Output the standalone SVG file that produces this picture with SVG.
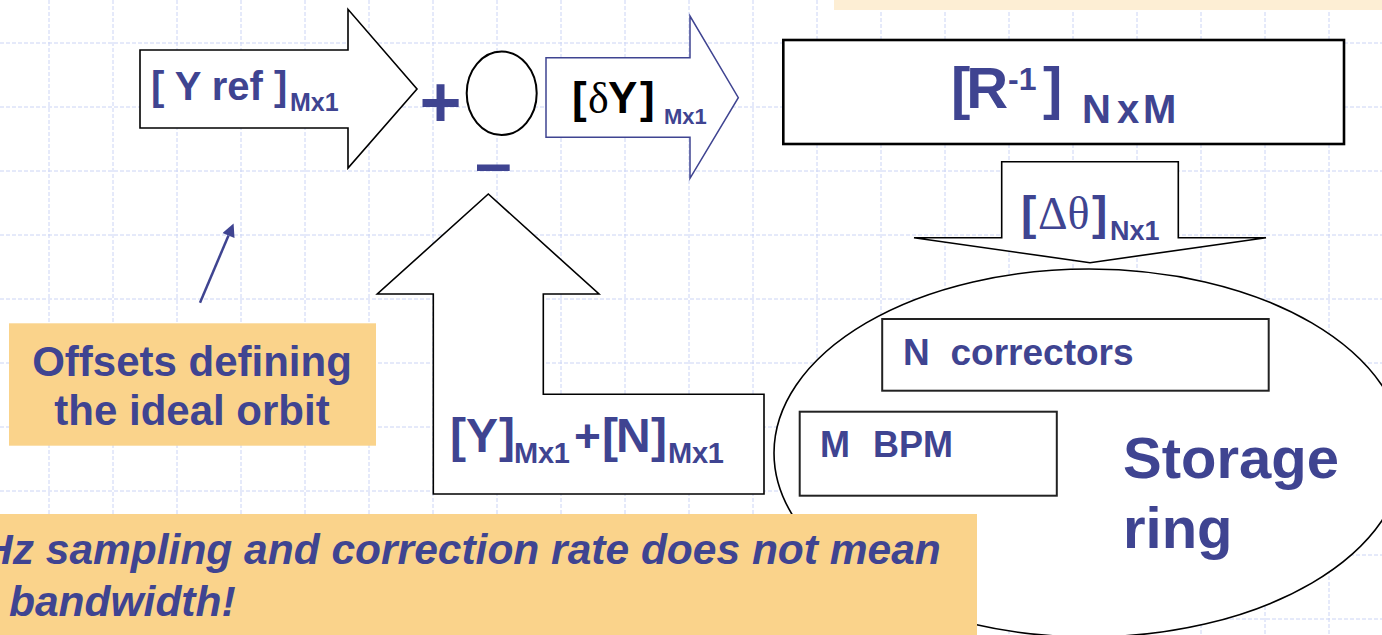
<svg xmlns="http://www.w3.org/2000/svg" width="1382" height="635" viewBox="0 0 1382 635">
<style>
.grid{fill:none;stroke:#CBD4F5;stroke-width:1;stroke-dasharray:4 2}
.t{font-family:"Liberation Sans",Arial,sans-serif;font-weight:bold;fill:#3F4491}
.k{fill:#000}
.g{font-family:"Liberation Serif","Times New Roman",serif;font-weight:normal}
.shape{fill:#fff;stroke:#000;stroke-width:1.6;stroke-linejoin:miter}
.note{fill:#FAD38B}
</style>
<defs>
<marker id="ah" viewBox="0 0 10 10" refX="0" refY="5" markerUnits="userSpaceOnUse" markerWidth="15" markerHeight="13" orient="auto">
<path d="M0,0 L10,5 L0,10 z" fill="#3F4491"/>
</marker>
</defs>
<rect width="1382" height="635" fill="#fff"/>
<path class="grid" d="M49 0V635M113 0V635M177 0V635M241 0V635M305 0V635M369 0V635M433 0V635M497 0V635M561 0V635M625 0V635M689 0V635M753 0V635M817 0V635M881 0V635M945 0V635M1009 0V635M1073 0V635M1137 0V635M1201 0V635M1265 0V635M1329 0V635M0 43H1382M0 107H1382M0 171H1382M0 235H1382M0 299H1382M0 363H1382M0 427H1382M0 491H1382M0 555H1382M0 619H1382"/>
<rect id="top-band" x="834" y="0" width="548" height="10" fill="#FDEED4"/>

<g id="yref">
<polygon class="shape" points="140,50 348,50 348,9.3 417,89 348,168 348,128 140,128"/>
<text class="t" font-size="40" x="151" y="100">[ Y ref ]</text>
<text class="t" font-size="25" x="290" y="111">Mx1</text>
</g>

<g id="summing">
<ellipse cx="501.7" cy="93.3" rx="35" ry="41.7" fill="#fff" stroke="#000" stroke-width="2"/>
<text class="t" font-size="72" x="440.5" y="127" text-anchor="middle">+</text>
<text class="t" font-size="66" x="475" y="186">–</text>
</g>

<g id="dy">
<polygon points="546,57.7 690,57.7 690,16 738.3,97.7 690,178.3 690,137.3 546,137.3" fill="#fff" stroke="#3F4491" stroke-width="1.5"/>
<text class="t k" font-size="44" y="113"><tspan x="572">[</tspan><tspan class="g" x="588">δ</tspan><tspan x="608">Y</tspan><tspan x="640">]</tspan></text>
<text class="t" font-size="22" x="664" y="124">Mx1</text>
</g>

<g id="rinv">
<rect x="783.3" y="40" width="560.7" height="104" fill="#fff" stroke="#000" stroke-width="2.6"/>
<text class="t" font-size="58" x="951" y="108" letter-spacing="-4">[R</text>
<text class="t" font-size="32" x="1008" y="90">-1</text>
<text class="t" font-size="58" x="1043" y="108">]</text>
<text class="t" font-size="40" y="122.5"><tspan x="1082">N</tspan><tspan x="1117">x</tspan><tspan x="1143">M</tspan></text>
</g>

<g id="dtheta">
<polygon class="shape" points="1001.7,161.7 1178.3,161.7 1178.3,237.7 1266,237.7 1090,262.7 914,237.7 1001.7,237.7"/>
<text class="t" font-size="46" y="229"><tspan x="1021">[</tspan><tspan class="g" x="1038">Δθ</tspan><tspan x="1092">]</tspan></text>
<text class="t" font-size="27" x="1110" y="240">Nx1</text>
</g>

<g id="ring">
<ellipse cx="1089" cy="453" rx="315" ry="184" fill="#fff" stroke="#000" stroke-width="1.6"/>
<text class="t" font-size="58" x="1123" y="478">Storage</text>
<text class="t" font-size="58" x="1123" y="548">ring</text>
</g>

<g id="correctors">
<rect x="882.2" y="319" width="386.5" height="71.7" fill="#fff" stroke="#222" stroke-width="2"/>
<text class="t" font-size="37" y="365"><tspan x="903">N</tspan><tspan x="950.5">correctors</tspan></text>
</g>

<g id="bpm">
<rect x="799.7" y="411.7" width="257.1" height="84" fill="#fff" stroke="#222" stroke-width="2"/>
<text class="t" font-size="36" y="457.3"><tspan x="820">M</tspan><tspan x="873">BPM</tspan></text>
</g>

<g id="feedback">
<polygon class="shape" points="433.3,294 377.3,294 488.3,194 599,294 543.3,294 543.3,394.3 764,394.3 764,494 433.3,494"/>
<text class="t" font-size="48" y="451.7"><tspan x="450">[</tspan><tspan x="466">Y</tspan><tspan x="499">]</tspan></text>
<text class="t" font-size="29" x="514" y="463" textLength="56">Mx1</text>
<text class="t" font-size="46" x="574" y="451.7">+</text>
<text class="t" font-size="48" y="451.7"><tspan x="602">[</tspan><tspan x="616">N</tspan><tspan x="651">]</tspan></text>
<text class="t" font-size="29" x="668" y="463" textLength="56">Mx1</text>
</g>

<g id="offsets">
<rect class="note" x="9" y="323.3" width="367" height="122.4"/>
<text class="t" font-size="42" x="192" y="376" text-anchor="middle">Offsets defining</text>
<text class="t" font-size="42" x="192" y="425" text-anchor="middle">the ideal orbit</text>
</g>

<g id="connectors">
<line x1="200" y1="302.7" x2="228.5" y2="235.5" stroke="#3F4491" stroke-width="2.5" marker-end="url(#ah)"/>
</g>

<g id="bandwidth-note">
<rect class="note" x="0" y="514" width="977" height="121"/>
<text class="t" font-size="42.5" font-style="italic" x="-18" y="564">Hz sampling and correction rate does not mean</text>
<text class="t" font-size="42.5" font-style="italic" x="9" y="616">bandwidth!</text>
</g>
</svg>
